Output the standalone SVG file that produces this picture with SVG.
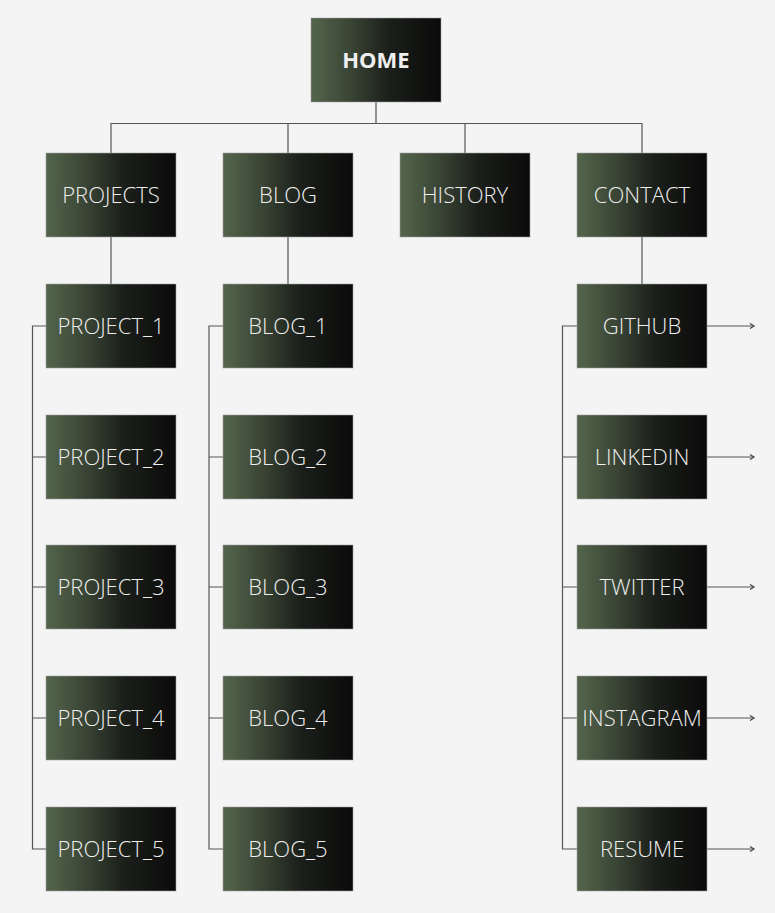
<svg xmlns="http://www.w3.org/2000/svg" width="775" height="913" viewBox="0 0 775 913">
<defs>
<linearGradient id="g" x1="0" y1="0" x2="1" y2="0">
<stop offset="0" stop-color="#54654c"/>
<stop offset="0.3" stop-color="#3a4535"/>
<stop offset="0.6" stop-color="#1b1f1a"/>
<stop offset="1" stop-color="#0a0a0a"/>
</linearGradient>
<marker id="a" markerWidth="8" markerHeight="8" refX="6" refY="4" orient="auto" markerUnits="userSpaceOnUse">
<path d="M2,1.5 L6,4 L2,6.5" fill="none" stroke="#444" stroke-width="1.2"/>
</marker>
<style>
.b{fill:url(#g);stroke:#a0a0a0;stroke-width:0.8;stroke-opacity:0.7}
.t{font-family:"Open Sans","Noto Sans",sans-serif;font-weight:300;font-size:22px;fill:#efefef;text-anchor:middle;dominant-baseline:central}
.h{font-weight:700;font-size:22px}
.c{fill:none;stroke:#555;stroke-width:1.2}
</style>
</defs>
<rect width="775" height="913" fill="#f4f4f4"/>
<g id="connectors">
<path class="c" d="M376,102 V123.5 M111,153 V123.5 H642 V153 M288,123.5 V153 M465,123.5 V153"/>
<path class="c" d="M111,237 V284 M288,237 V284 M642,237 V284"/>
<path class="c" d="M46,326 H32.5 V849 H46 M32.5,457 H46 M32.5,587 H46 M32.5,718 H46"/>
<path class="c" d="M223,326 H209 V849 H223 M209,457 H223 M209,587 H223 M209,718 H223"/>
<path class="c" d="M577,326 H562.5 V849 H577 M562.5,457 H577 M562.5,587 H577 M562.5,718 H577"/>
<path class="c" marker-end="url(#a)" d="M707,326 H754"/>
<path class="c" marker-end="url(#a)" d="M707,457 H754"/>
<path class="c" marker-end="url(#a)" d="M707,587 H754"/>
<path class="c" marker-end="url(#a)" d="M707,718 H754"/>
<path class="c" marker-end="url(#a)" d="M707,849 H754"/>
</g>
<g id="home"><rect class="b" x="311" y="18" width="130" height="84"/><text class="t h" x="376" y="59">HOME</text></g>
<g id="projects"><rect class="b" x="46" y="153" width="130" height="84"/><text class="t" x="111" y="194">PROJECTS</text></g>
<g id="blog"><rect class="b" x="223" y="153" width="130" height="84"/><text class="t" x="288" y="194">BLOG</text></g>
<g id="history"><rect class="b" x="400" y="153" width="130" height="84"/><text class="t" x="465" y="194">HISTORY</text></g>
<g id="contact"><rect class="b" x="577" y="153" width="130" height="84"/><text class="t" x="642" y="194">CONTACT</text></g>
<g id="project_1"><rect class="b" x="46" y="284" width="130" height="84"/><text class="t" x="111" y="325">PROJECT_1</text></g>
<g id="project_2"><rect class="b" x="46" y="415" width="130" height="84"/><text class="t" x="111" y="456">PROJECT_2</text></g>
<g id="project_3"><rect class="b" x="46" y="545" width="130" height="84"/><text class="t" x="111" y="586">PROJECT_3</text></g>
<g id="project_4"><rect class="b" x="46" y="676" width="130" height="84"/><text class="t" x="111" y="717">PROJECT_4</text></g>
<g id="project_5"><rect class="b" x="46" y="807" width="130" height="84"/><text class="t" x="111" y="848">PROJECT_5</text></g>
<g id="blog_1"><rect class="b" x="223" y="284" width="130" height="84"/><text class="t" x="288" y="325">BLOG_1</text></g>
<g id="blog_2"><rect class="b" x="223" y="415" width="130" height="84"/><text class="t" x="288" y="456">BLOG_2</text></g>
<g id="blog_3"><rect class="b" x="223" y="545" width="130" height="84"/><text class="t" x="288" y="586">BLOG_3</text></g>
<g id="blog_4"><rect class="b" x="223" y="676" width="130" height="84"/><text class="t" x="288" y="717">BLOG_4</text></g>
<g id="blog_5"><rect class="b" x="223" y="807" width="130" height="84"/><text class="t" x="288" y="848">BLOG_5</text></g>
<g id="github"><rect class="b" x="577" y="284" width="130" height="84"/><text class="t" x="642" y="325">GITHUB</text></g>
<g id="linkedin"><rect class="b" x="577" y="415" width="130" height="84"/><text class="t" x="642" y="456">LINKEDIN</text></g>
<g id="twitter"><rect class="b" x="577" y="545" width="130" height="84"/><text class="t" x="642" y="586">TWITTER</text></g>
<g id="instagram"><rect class="b" x="577" y="676" width="130" height="84"/><text class="t" x="642" y="717">INSTAGRAM</text></g>
<g id="resume"><rect class="b" x="577" y="807" width="130" height="84"/><text class="t" x="642" y="848">RESUME</text></g>
</svg>
